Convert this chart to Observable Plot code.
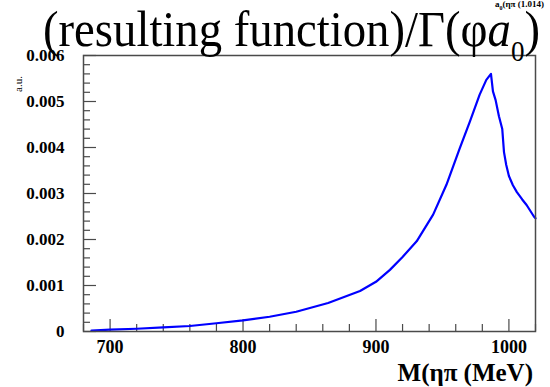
<!DOCTYPE html>
<html>
<head>
<meta charset="utf-8">
<script src="https://cdn.jsdelivr.net/npm/d3@7"></script>
<script src="https://cdn.jsdelivr.net/npm/@observablehq/plot@0.6"></script>
<style>
  html, body { margin: 0; padding: 0; background: #fff; }
  #wrap { position: relative; width: 550px; height: 387px; overflow: hidden; font-family: "Liberation Serif", "Times New Roman", serif; }
  #title { position: absolute; left: 43px; top: 4px; font-size: 50px; line-height: 1; white-space: nowrap; color: #000; transform-origin: left top; }
  #title sub { font-size: 29px; vertical-align: -15px; line-height: 0; font-style: normal; }
  #toptxt { position: absolute; right: 6px; top: 0px; font-size: 9px; line-height: 1; font-weight: bold; white-space: nowrap; }
  #toptxt sub { font-size: 6px; line-height: 0; }
  #ylab { position: absolute; left: 13px; top: 92px; font-size: 11px; line-height: 1; transform: rotate(-90deg); transform-origin: left top; white-space: nowrap; }
  #xlab { position: absolute; right: 17px; top: 360px; font-size: 25px; font-weight: bold; white-space: nowrap; line-height: 1; }
  svg { position: absolute; left: 0; top: 0; }
</style>
</head>
<body>
<div id="wrap">
  <div id="toptxt">a<sub>0</sub>(ηπ (1.014)</div>
  <div id="title">(resulting function)/Γ(φ<i>a</i><sub>0</sub>)</div>
  <div id="ylab">a.u.</div>
  <div id="xlab">M(ηπ (MeV)</div>
</div>
<script>
// Curve values
const mass = [686, 700, 720, 740, 760, 780, 800, 820, 840, 864, 888, 900, 910.5, 920, 930.6, 943, 953, 963, 970.7, 978, 983, 986.5, 988, 990, 992.5, 995, 996.3, 998, 1000, 1003, 1006, 1010, 1013.3, 1018.8, 1020];
const value = [0.00002, 0.00004, 0.00006, 0.00009, 0.00012, 0.00018, 0.00024, 0.00032, 0.00043, 0.00062, 0.00088, 0.00108, 0.00134, 0.00162, 0.00196, 0.00254, 0.00319, 0.00398, 0.00457, 0.00515, 0.00547, 0.0056, 0.00522, 0.00503, 0.00468, 0.0044, 0.0039, 0.00362, 0.00338, 0.00318, 0.00303, 0.00287, 0.00275, 0.0025, 0.00246];

const xMajor = [700, 800, 900, 1000];
const xLabels = ["700", "800", "900", "1000"];
const xMinor = [680, 720, 740, 760, 780, 820, 840, 860, 880, 920, 940, 960, 980, 1020];
const yMajor = [0, 0.001, 0.002, 0.003, 0.004, 0.005, 0.006];
const yLabels = ["0", "0.001", "0.002", "0.003", "0.004", "0.005", "0.006"];
const yMinor = d3.range(0, 0.00601, 0.0002).filter(v => !yMajor.some(m => Math.abs(m - v) < 1e-9));

const data = mass.map((m, i) => ({m, v: value[i]}));

const W = 550, H = 387;
const mt = 55, mb = 56, ml = 83, mr = 15;
const ph = H - mt - mb, pw = W - ml - mr;
const ink = "#4a4a4a";

const chart = Plot.plot({
  width: W,
  height: H,
  marginTop: mt,
  marginBottom: mb,
  marginLeft: ml,
  marginRight: mr,
  style: {fontFamily: "'Liberation Serif', 'Times New Roman', serif", background: "transparent"},
  x: {domain: [680, 1020]},
  y: {domain: [0, 0.006]},
  marks: [
    Plot.tickX(xMinor, {x: d => d, insetTop: ph - 7, stroke: ink, strokeWidth: 1.2}),
    Plot.tickX(xMajor, {x: d => d, insetTop: ph - 12, stroke: ink, strokeWidth: 1.2}),
    Plot.tickY(yMinor, {y: d => d, insetRight: pw - 7, stroke: ink, strokeWidth: 1.2}),
    Plot.tickY(yMajor, {y: d => d, insetRight: pw - 13, stroke: ink, strokeWidth: 1.2}),
    Plot.axisX({ticks: xMajor, tickSize: 0, tickPadding: 9, fontSize: 18, fontWeight: "bold", fill: "#000", label: null,
      tickFormat: d => xLabels[xMajor.indexOf(d)]}),
    Plot.axisY({ticks: yMajor, tickSize: 0, tickPadding: 19, fontSize: 17, fontWeight: "bold", fill: "#000", label: null,
      tickFormat: d => yLabels[yMajor.indexOf(d)]}),
    Plot.line(data, {x: "m", y: "v", stroke: "#0000ff", strokeWidth: 2.2, curve: "linear"}),
    Plot.frame({stroke: ink, strokeWidth: 1.5})
  ]
});
const wrap = document.getElementById("wrap");
wrap.insertBefore(chart, wrap.firstChild);
// fit the title to the reference width
const t = document.getElementById("title");
const tw = t.getBoundingClientRect().width;
t.style.transform = `scaleX(${497 / tw})`;
</script>
</body>
</html>
